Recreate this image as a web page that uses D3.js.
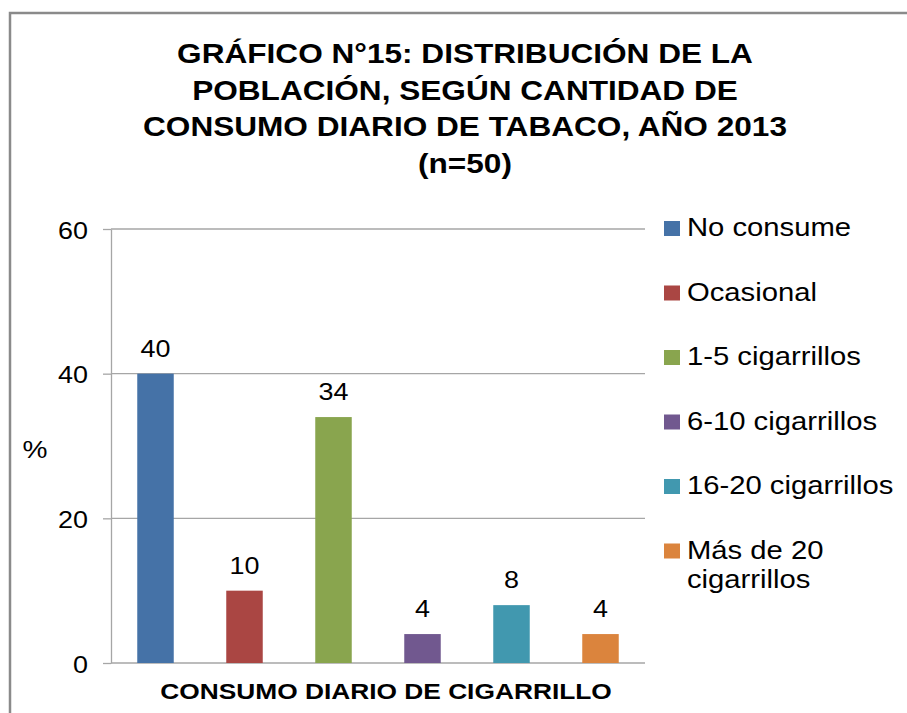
<!DOCTYPE html>
<html>
<head>
<meta charset="utf-8">
<script src="https://cdn.jsdelivr.net/npm/d3@7"></script>
<style>
  body { margin: 0; background: white; }
  svg { display: block; font-family: "Liberation Sans", Arial, sans-serif; }
</style>
</head>
<body>
<div id="chart"></div>
<script>
// data
const categories = ["No consume", "Ocasional", "1-5 cigarrillos", "6-10 cigarrillos", "16-20 cigarrillos", "Más de 20 cigarrillos"];
const values = [40, 10, 34, 4, 8, 4];
const colors = ["#4572A7", "#AA4643", "#89A54E", "#71588F", "#4198AF", "#DB843D"];
const yTicks = [0, 20, 40, 60];
const titleLines = ["GRÁFICO N°15: DISTRIBUCIÓN DE LA", "POBLACIÓN, SEGÚN CANTIDAD DE", "CONSUMO DIARIO DE TABACO, AÑO 2013", "(n=50)"];

const width = 907, height = 713;
// the original picture is a bit stretched sideways, so text is too
const sx = 1.17;
const place = (x, y) => `translate(${x},${y}) scale(${sx},1)`;

const svg = d3.select("#chart").append("svg")
    .attr("width", width).attr("height", height);

// frame (only top and left edges show)
svg.append("path")
    .attr("d", `M10,${height} L10,13 L${width},13`)
    .attr("fill", "none")
    .attr("stroke", "#8a8a8a")
    .attr("stroke-width", 2.5);

// title
svg.selectAll(".title")
    .data(titleLines)
    .join("text")
    .attr("class", "title")
    .attr("text-anchor", "middle")
    .attr("font-weight", "bold")
    .attr("font-size", 27)
    .attr("transform", (d, i) => place(465, 63 + i * 36.7))
    .text(d => d);

const plot = { left: 111, right: 645, top: 229, bottom: 663 };

const x = d3.scaleBand()
    .domain(categories)
    .range([plot.left, plot.right])
    .paddingInner(0.59)
    .paddingOuter(0.295);

const y = d3.scaleLinear()
    .domain([0, 60])
    .range([plot.bottom, plot.top]);

// gridlines
svg.append("g")
    .selectAll("line")
    .data(yTicks)
    .join("line")
    .attr("x1", plot.left).attr("x2", plot.right)
    .attr("y1", d => y(d)).attr("y2", d => y(d))
    .attr("stroke", "#a6a6a6")
    .attr("stroke-width", 1.3);

// y axis
const yAxis = svg.append("g")
    .attr("transform", `translate(${plot.left},0)`)
    .call(d3.axisLeft(y).tickValues(yTicks).tickSizeInner(8).tickSizeOuter(0));

yAxis.select(".domain").attr("stroke", "#a6a6a6").attr("stroke-width", 1.3);
yAxis.selectAll(".tick line").attr("stroke", "#a6a6a6").attr("stroke-width", 1.3);
yAxis.selectAll(".tick text")
    .attr("x", null).attr("dy", null)
    .attr("transform", place(-23, 9))
    .attr("font-family", "Liberation Sans, Arial, sans-serif")
    .attr("font-size", 23)
    .attr("fill", "#000");

// bars
svg.append("g")
    .selectAll("rect")
    .data(values)
    .join("rect")
    .attr("x", (d, i) => x(categories[i]))
    .attr("width", x.bandwidth())
    .attr("y", d => y(d))
    .attr("height", d => y(0) - y(d))
    .attr("fill", (d, i) => colors[i]);

// value labels
svg.append("g")
    .selectAll("text")
    .data(values)
    .join("text")
    .attr("text-anchor", "middle")
    .attr("font-size", 23)
    .attr("transform", (d, i) => place(x(categories[i]) + x.bandwidth() / 2, y(d) - 17))
    .text(d => d);

// axis titles
svg.append("text")
    .attr("text-anchor", "middle")
    .attr("font-size", 24)
    .attr("transform", place(35, 458))
    .text("%");

svg.append("text")
    .attr("text-anchor", "middle")
    .attr("font-weight", "bold")
    .attr("font-size", 22.5)
    .attr("transform", place(386, 699))
    .text("CONSUMO DIARIO DE CIGARRILLO");

// legend
const legend = svg.append("g")
    .selectAll("g")
    .data(categories)
    .join("g")
    .attr("transform", (d, i) => `translate(664,${236 + i * 64.5})`);

legend.append("rect")
    .attr("x", 0).attr("y", -15)
    .attr("width", 16).attr("height", 15)
    .attr("fill", (d, i) => colors[i]);

legend.append("text")
    .attr("font-size", 25)
    .attr("transform", place(23, 0))
    .selectAll("tspan")
    .data(d => {
        if (d.length <= 18) return [d];
        const cut = d.lastIndexOf(" ");
        return [d.slice(0, cut), d.slice(cut + 1)];
    })
    .join("tspan")
    .attr("x", 0)
    .attr("dy", (d, i) => i === 0 ? 0 : 30)
    .text(d => d);
</script>
</body>
</html>
